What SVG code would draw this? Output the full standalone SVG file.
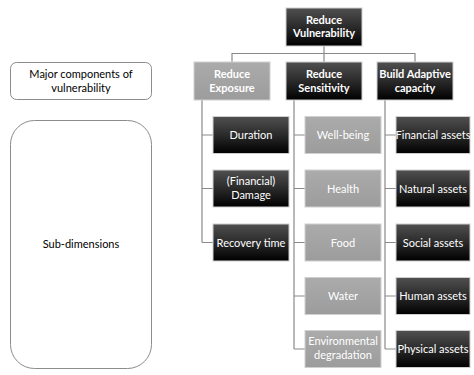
<svg xmlns="http://www.w3.org/2000/svg" width="474" height="375" viewBox="0 0 474 375">
<defs>
<linearGradient id="gd" x1="0" y1="0" x2="0" y2="1">
<stop offset="0" stop-color="#505050"/>
<stop offset="0.5" stop-color="#2a2a2a"/>
<stop offset="1" stop-color="#000000"/>
</linearGradient>
<linearGradient id="gl" x1="0" y1="0" x2="0" y2="1">
<stop offset="0" stop-color="#ababab"/>
<stop offset="1" stop-color="#9c9c9c"/>
</linearGradient>
</defs>
<style>
text{font-family:Lato,"Liberation Sans",sans-serif;font-size:11px;text-anchor:middle;fill:#fff}
.b{font-weight:bold}
.dk{fill:url(#gd);stroke:#cfcfcf;stroke-width:1}
.lt{fill:url(#gl);stroke:#d0d0d0;stroke-width:1}
.side{fill:#fff;stroke:#8c8c8c;stroke-width:1}
.side-t{fill:#000}
.c{fill:none;stroke:#8a8a8a;stroke-width:1.2}
</style>
<rect width="474" height="375" fill="#fff"/>
<g id="connectors">
<path class="c" d="M324 46V53.5M232 62V53.5H415V62M324 53.5V62"/>
<path class="c" d="M202 100V242.5M202 135H213M202 188.5H213M202 242.5H213"/>
<path class="c" d="M294 100V349M294 135H305M294 188.5H305M294 242.5H305M294 296H305M294 349H305"/>
<path class="c" d="M385 100V349M385 135H396M385 188.5H396M385 242.5H396M385 296H396M385 349H396"/>
</g>
<g id="legend-major"><rect class="side" x="10.5" y="62.5" width="141" height="37" rx="6"/><text class="side-t" x="81" y="78">Major components of</text><text class="side-t" x="81" y="92">vulnerability</text></g>
<g id="legend-sub"><rect class="side" x="10.5" y="120.5" width="141" height="248" rx="24"/><text class="side-t" x="81" y="248">Sub-dimensions</text></g>
<g id="n-vulnerability"><rect class="dk" x="286" y="8" width="76" height="38"/><text class="b" x="324" y="24">Reduce</text><text class="b" x="324" y="37">Vulnerability</text></g>
<g id="n-exposure"><rect class="lt" x="194" y="62" width="76" height="38"/><text class="b" x="232" y="78">Reduce</text><text class="b" x="232" y="92">Exposure</text></g>
<g id="n-sensitivity"><rect class="dk" x="286" y="62" width="76" height="38"/><text class="b" x="324" y="78">Reduce</text><text class="b" x="324" y="92">Sensitivity</text></g>
<g id="n-adaptive"><rect class="dk" x="377" y="62" width="76" height="38"/><text class="b" x="415" y="78">Build Adaptive</text><text class="b" x="415" y="92">capacity</text></g>
<g id="n-duration"><rect class="dk" x="213" y="116.5" width="76" height="37"/><text x="251" y="139">Duration</text></g>
<g id="n-damage"><rect class="dk" x="213" y="170" width="76" height="37"/><text x="251" y="185">(Financial)</text><text x="251" y="199">Damage</text></g>
<g id="n-recovery"><rect class="dk" x="213" y="224" width="76" height="37"/><text x="251" y="246.5">Recovery time</text></g>
<g id="n-wellbeing"><rect class="lt" x="305" y="116.5" width="76" height="37"/><text x="343" y="139">Well-being</text></g>
<g id="n-health"><rect class="lt" x="305" y="170" width="76" height="37"/><text x="343" y="192.5">Health</text></g>
<g id="n-food"><rect class="lt" x="305" y="224" width="76" height="37"/><text x="343" y="246.5">Food</text></g>
<g id="n-water"><rect class="lt" x="305" y="277.5" width="76" height="37"/><text x="343" y="300">Water</text></g>
<g id="n-env"><rect class="lt" x="305" y="330.5" width="76" height="37"/><text x="343" y="345">Environmental</text><text x="343" y="359">degradation</text></g>
<g id="n-financial"><rect class="dk" x="396" y="116.5" width="74" height="37"/><text x="433" y="139">Financial assets</text></g>
<g id="n-natural"><rect class="dk" x="396" y="170" width="74" height="37"/><text x="433" y="192.5">Natural assets</text></g>
<g id="n-social"><rect class="dk" x="396" y="224" width="74" height="37"/><text x="433" y="246.5">Social assets</text></g>
<g id="n-human"><rect class="dk" x="396" y="277.5" width="74" height="37"/><text x="433" y="300">Human assets</text></g>
<g id="n-physical"><rect class="dk" x="396" y="330.5" width="74" height="37"/><text x="433" y="353">Physical assets</text></g>
</svg>
